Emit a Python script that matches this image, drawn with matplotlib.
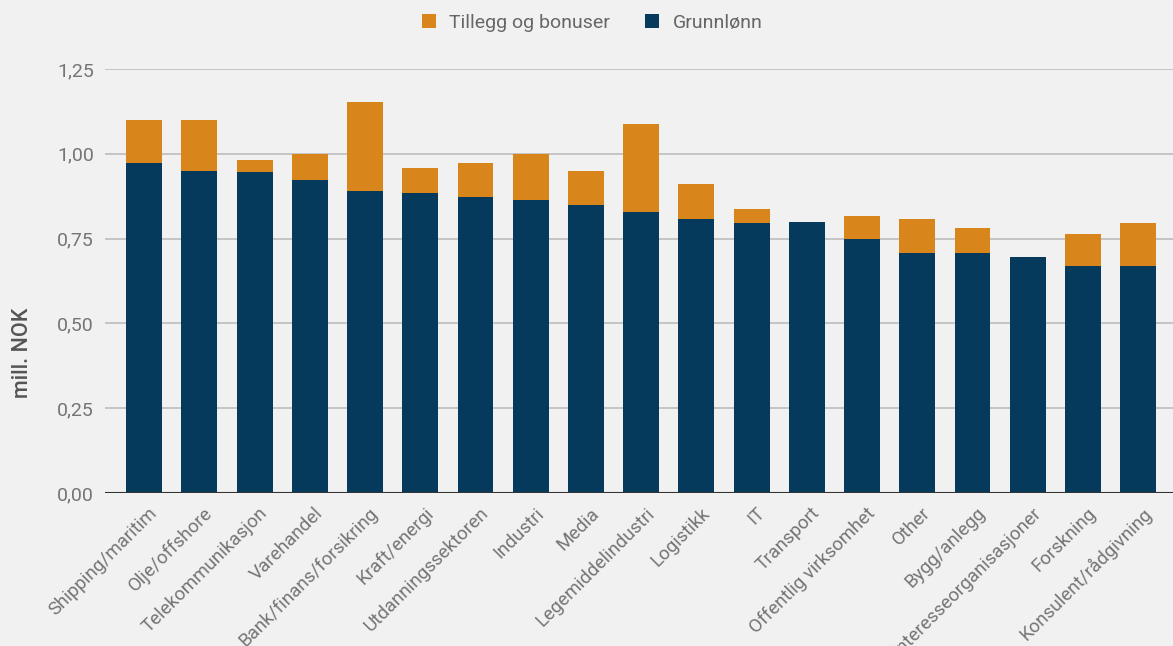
import numpy as np
import matplotlib as mpl
mpl.use('Agg')
import matplotlib.pyplot as plt
import matplotlib.transforms as mtransforms
from matplotlib.ticker import FuncFormatter

sektorer = ["Shipping/maritim", "Olje/offshore", "Telekommunikasjon", "Varehandel",
            "Bank/finans/forsikring", "Kraft/energi", "Utdanningssektoren", "Industri",
            "Media", "Legemiddelindustri", "Logistikk", "IT", "Transport",
            "Offentlig virksomhet", "Other", "Bygg/anlegg", "Interesseorganisasjoner",
            "Forskning", "Konsulent/rådgivning"]
grunnlonn = [0.973, 0.949, 0.946, 0.923, 0.890, 0.884, 0.873, 0.864, 0.849, 0.828,
             0.808, 0.796, 0.799, 0.749, 0.708, 0.708, 0.696, 0.669, 0.669]
totalt = [1.100, 1.100, 0.982, 1.000, 1.153, 0.958, 0.973, 1.000, 0.949, 1.088,
          0.911, 0.837, 0.799, 0.817, 0.808, 0.781, 0.696, 0.764, 0.796]
tillegg = [t - g for t, g in zip(totalt, grunnlonn)]
yticks = [0.0, 0.25, 0.5, 0.75, 1.0, 1.25]

bg = "#f1f1f1"
orange = "#d8851b"
navy = "#053a5c"
plt.rcParams['font.family'] = ['Roboto', 'DejaVu Sans']

fig = plt.figure(figsize=(11.73, 6.46), dpi=100, facecolor=bg)
ax = fig.add_axes([0.0895, 0.2368, 0.9105, 0.6563], facecolor=bg)

x = np.arange(len(sektorer))
ax.bar(x, grunnlonn, width=0.65, color=navy, label="Grunnlønn", zorder=3)
ax.bar(x, tillegg, width=0.65, bottom=grunnlonn, color=orange,
       label="Tillegg og bonuser", zorder=3)

ax.set_xlim(-0.71, len(sektorer) - 1 + 0.63)
ax.set_ylim(0, 1.25)
ax.set_yticks(yticks)
ax.yaxis.set_major_formatter(FuncFormatter(lambda v, p: f"{v:.2f}".replace(".", ",")))
ax.grid(axis='y', color="#bdbdbd", linewidth=1.2, zorder=0)
ax.axhline(0, color="#333333", linewidth=1.5, zorder=4)
for s in ax.spines.values():
    s.set_visible(False)
ax.tick_params(axis='y', length=0, pad=8, labelsize=14, labelcolor="#757575")
ax.tick_params(axis='x', length=0, pad=8, labelsize=13.5, labelcolor="#757575")
ax.set_xticks(x)
ax.set_xticklabels(sektorer, rotation=45, ha='right', rotation_mode='anchor')
shift = mtransforms.ScaledTranslation(4 / 100, 0, fig.dpi_scale_trans)
for lab in ax.get_xticklabels():
    lab.set_transform(lab.get_transform() + shift)
ax.set_ylabel("mill. NOK", fontsize=15.5, color="#555555", fontweight='medium')
ax.yaxis.set_label_coords(-0.067, 0.33)

handles, labels = ax.get_legend_handles_labels()
fig.legend(handles[::-1], labels[::-1], loc='center', bbox_to_anchor=(0.505, 0.965),
           ncol=2, frameon=False, fontsize=14, labelcolor="#666666",
           handlelength=0.7, handleheight=0.7, handletextpad=0.7, columnspacing=1.8)

fig.savefig("out.png", dpi=100, facecolor=bg)
